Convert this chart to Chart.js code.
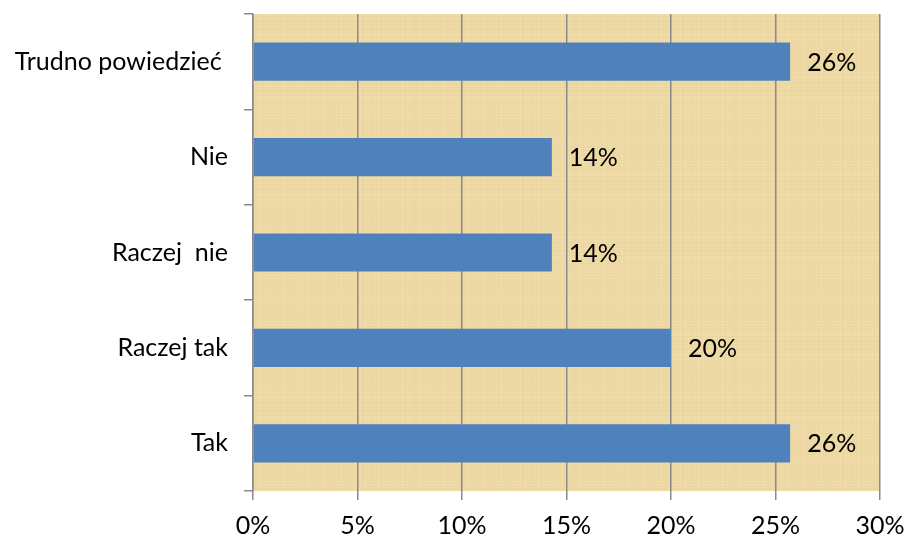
<!DOCTYPE html>
<html>
<head>
<meta charset="utf-8">
<script src="https://cdn.jsdelivr.net/npm/chart.js@4"></script>
<style>
  html, body { margin: 0; padding: 0; background: #fff; }
  #wrap { width: 907px; height: 538px; }
</style>
</head>
<body>
<div id="wrap"><canvas id="wykres" width="907" height="538"></canvas></div>
<script>
"use strict";

// kategorie od góry do dołu
const categories = ['Trudno powiedzieć ', 'Nie', 'Raczej  nie', 'Raczej tak', 'Tak'];
// procent odpowiedzi
const values = [25.7, 14.3, 14.3, 20.0, 25.7];
// etykiety osi X
const xTicks = [0, 5, 10, 15, 20, 25, 30];

const FONT = 'Lato, "Open Sans", sans-serif';
const FONT_SIZE = 25;

// papirusowe tło (prosty wzór zamiast obrazka)
function makePaper(ctx) {
    const c = document.createElement('canvas');
    c.width = 160; c.height = 160;
    const p = c.getContext('2d');
    p.fillStyle = 'rgb(238,217,164)';
    p.fillRect(0, 0, 160, 160);
    for (let i = 0; i < 160; i += 3) {
        const a = 0.06 + 0.08 * Math.abs(Math.sin(i * 0.37));
        p.fillStyle = 'rgba(255,245,215,' + a + ')';
        p.fillRect(i, 0, 1 + (i % 2), 160);
        p.fillStyle = 'rgba(205,170,100,' + (a * 0.7) + ')';
        p.fillRect(0, (i * 7) % 160, 160, 1);
    }
    return ctx.createPattern(c, 'repeat');
}

const paperBg = {
    id: 'paperBg',
    beforeDraw(chart) {
        const { ctx, chartArea: a } = chart;
        ctx.save();
        ctx.fillStyle = makePaper(ctx);
        ctx.fillRect(a.left, a.top, a.right - a.left, a.bottom - a.top);
        ctx.restore();
    }
};

// etykiety wartości obok słupków
const valueLabels = {
    id: 'valueLabels',
    afterDatasetsDraw(chart) {
        const { ctx } = chart;
        const meta = chart.getDatasetMeta(0);
        ctx.save();
        ctx.font = FONT_SIZE + 'px ' + FONT;
        ctx.fillStyle = '#000';
        ctx.textAlign = 'left';
        ctx.textBaseline = 'middle';
        meta.data.forEach((bar, i) => {
            ctx.fillText(Math.round(values[i]) + '%', bar.x + 17, bar.y + 1);
        });
        ctx.restore();
    }
};

new Chart(document.getElementById('wykres'), {
    type: 'bar',
    data: {
        labels: categories,
        datasets: [{
            data: values,
            backgroundColor: '#4F81BD',
            borderWidth: 0,
            barPercentage: 0.4,
            categoryPercentage: 1
        }]
    },
    options: {
        indexAxis: 'y',
        responsive: false,
        animation: false,
        layout: { padding: { top: 14, right: 27, left: 0, bottom: 0 } },
        plugins: {
            legend: { display: false },
            tooltip: { enabled: false }
        },
        scales: {
            x: {
                min: 0,
                max: 30,
                afterFit(scale) {
                    scale.height = 47;
                    scale.paddingLeft = 0;
                    scale.paddingRight = 0;
                },
                afterBuildTicks(scale) { scale.ticks = xTicks.map(v => ({ value: v })); },
                grid: { color: '#8a8a8a', lineWidth: 1.5, tickLength: 9 },
                border: { display: false },
                ticks: {
                    color: '#000',
                    padding: 11,
                    maxRotation: 0,
                    font: { family: FONT, size: FONT_SIZE },
                    callback: v => v + '%'
                }
            },
            y: {
                afterFit(scale) {
                    scale.width = 253;
                    scale.paddingTop = 0;
                    scale.paddingBottom = 0;
                },
                grid: { offset: true, drawOnChartArea: false, color: '#8a8a8a', lineWidth: 1.5, tickLength: 9 },
                border: { display: true, color: '#8a8a8a', width: 1.5 },
                ticks: {
                    color: '#000',
                    padding: 16,
                    font: { family: FONT, size: FONT_SIZE }
                }
            }
        }
    },
    plugins: [paperBg, valueLabels]
});
</script>
</body>
</html>
